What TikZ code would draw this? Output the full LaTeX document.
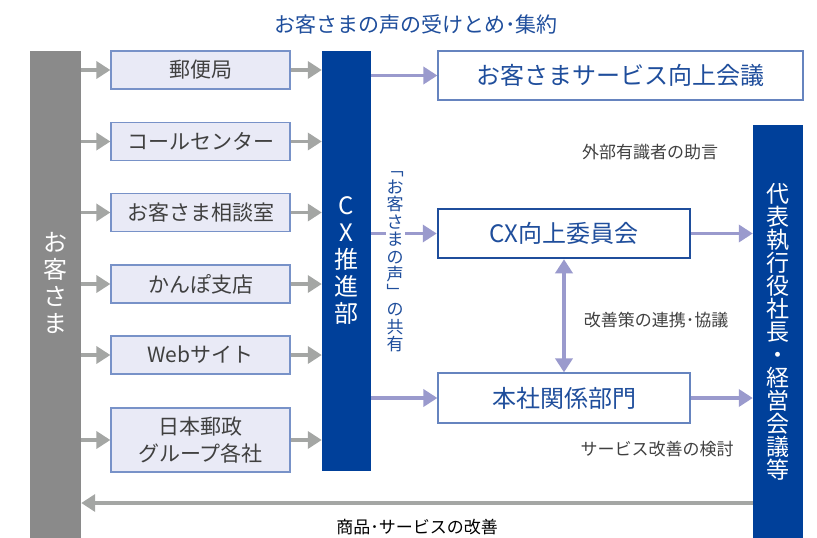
\documentclass[tikz,border=0pt]{standalone}
\usepackage{fontspec}
\setmainfont{Noto Sans CJK JP}
\usetikzlibrary{arrows.meta}

\definecolor{cxblue}{HTML}{00409A}
\definecolor{textblue}{HTML}{1F4E9C}
\definecolor{barGray}{HTML}{8A8A8A}
\definecolor{arrowGray}{HTML}{A4A6A4}
\definecolor{lavender}{HTML}{9A9ACD}
\definecolor{chanFill}{HTML}{E9EAF6}
\definecolor{chanLine}{HTML}{7892C8}
\definecolor{darkText}{HTML}{404040}

\begin{document}
\begin{tikzpicture}[x=1pt,y=-1pt,
  graybar/.style={fill=barGray, inner sep=0pt},
  bluebar/.style={fill=cxblue, text=white, inner sep=0pt, align=center},
  chan/.style={draw=chanLine, line width=1.2pt, fill=chanFill, text=darkText,
    minimum width=179, minimum height=38, align=center,
    font=\fontsize{21}{27}\selectfont},
  whitebox/.style={draw=chanLine!80!textblue, line width=1.2pt, fill=white,
    text=textblue, minimum width=252, font=\fontsize{24}{28}\selectfont},
  note/.style={text=darkText, font=\fontsize{17}{20}\selectfont},
  grayarrow/.style={draw=arrowGray, line width=3.5pt,
    -{Triangle[length=14pt,width=17pt]}},
  lavarrow/.style={draw=lavender, line width=3.5pt,
    -{Triangle[length=14pt,width=17pt]}}]

\useasboundingbox (0,0) rectangle (817,538);

% Title
\node[text=textblue, font=\fontsize{21}{24}\selectfont] (title) at (416,25)
  {お客さまの声の受けとめ･集約};

% Customers bar
\node[graybar, minimum width=51, minimum height=487] (cust) at (55.5,294.5) {};
\node[text=white, align=center, font=\fontsize{24}{27}\selectfont] (custlbl)
  at (55.5,283) {お\\客\\さ\\ま};

% Channels
\node[chan] (post) at (200.5,70) {郵便局};
\node[chan] (call) at (200.5,141.5) {コールセンター};
\node[chan] (desk) at (200.5,212.5) {お客さま相談室};
\node[chan] (kanpo) at (200.5,284) {かんぽ支店};
\node[chan] (web) at (200.5,355) {Webサイト};
\node[chan, minimum height=64] (group) at (200.5,440) {日本郵政\\グループ各社};

% CX bar and executives bar
\node[bluebar, minimum width=49, minimum height=420,
  font=\fontsize{24}{27}\selectfont] (cx) at (346.5,261) {C\\X\\推\\進\\部};
\node[bluebar, minimum width=50, minimum height=413,
  font=\fontsize{23}{23}\selectfont] (exec) at (778,331.5)
  {代\\表\\執\\行\\役\\社\\長\\・\\経\\営\\会\\議\\等};

% Meetings and departments
\node[whitebox, minimum width=365, minimum height=49] (meeting) at (620.5,75.5)
  {お客さまサービス向上会議};
\node[whitebox, draw=textblue, line width=2.5pt, minimum height=49] (cxcomm)
  at (564,233.5) {CX向上委員会};
\node[whitebox, minimum height=50] (dept) at (564,398) {本社関係部門};

% Gray arrows
\foreach \n in {post,call,desk,kanpo,web,group} {
  \draw[grayarrow] (cust.east |- \n) -- (\n);
  \draw[grayarrow] (\n) -- (cx.west |- \n);
}
\coordinate (back) at (exec.west |- 0,503);
\draw[grayarrow] (back) -- (cust.east |- back);

% Lavender arrows
\draw[lavarrow] (cx.east |- meeting) -- (meeting);
\draw[lavarrow] (cx.east |- cxcomm) -- (cxcomm);
\draw[lavarrow] (cx.east |- dept) -- (dept);
\draw[lavarrow] (cxcomm) -- (exec.west |- cxcomm);
\draw[lavarrow] (dept) -- (exec.west |- dept);
\draw[lavarrow, {Triangle[length=14pt,width=17pt]}-{Triangle[length=14pt,width=17pt]}]
  (cxcomm) -- (dept);

% Shared voices
\node[fill=white, text=textblue, inner sep=1pt, align=center,
  font=\fontsize{17}{17.5}\selectfont] (share) at (395,262)
  {﹁\\お\\客\\さ\\ま\\の\\声\\﹂\\の\\共\\有};

% Notes
\node[note] (advice) at (650,152) {外部有識者の助言};
\node[note] (talks) at (656,320) {改善策の連携･協議};
\node[note] (study) at (657,449) {サービス改善の検討};
\node[note, text=black] (improve) at (417,527) {商品･サービスの改善};
\end{tikzpicture}
\end{document}
